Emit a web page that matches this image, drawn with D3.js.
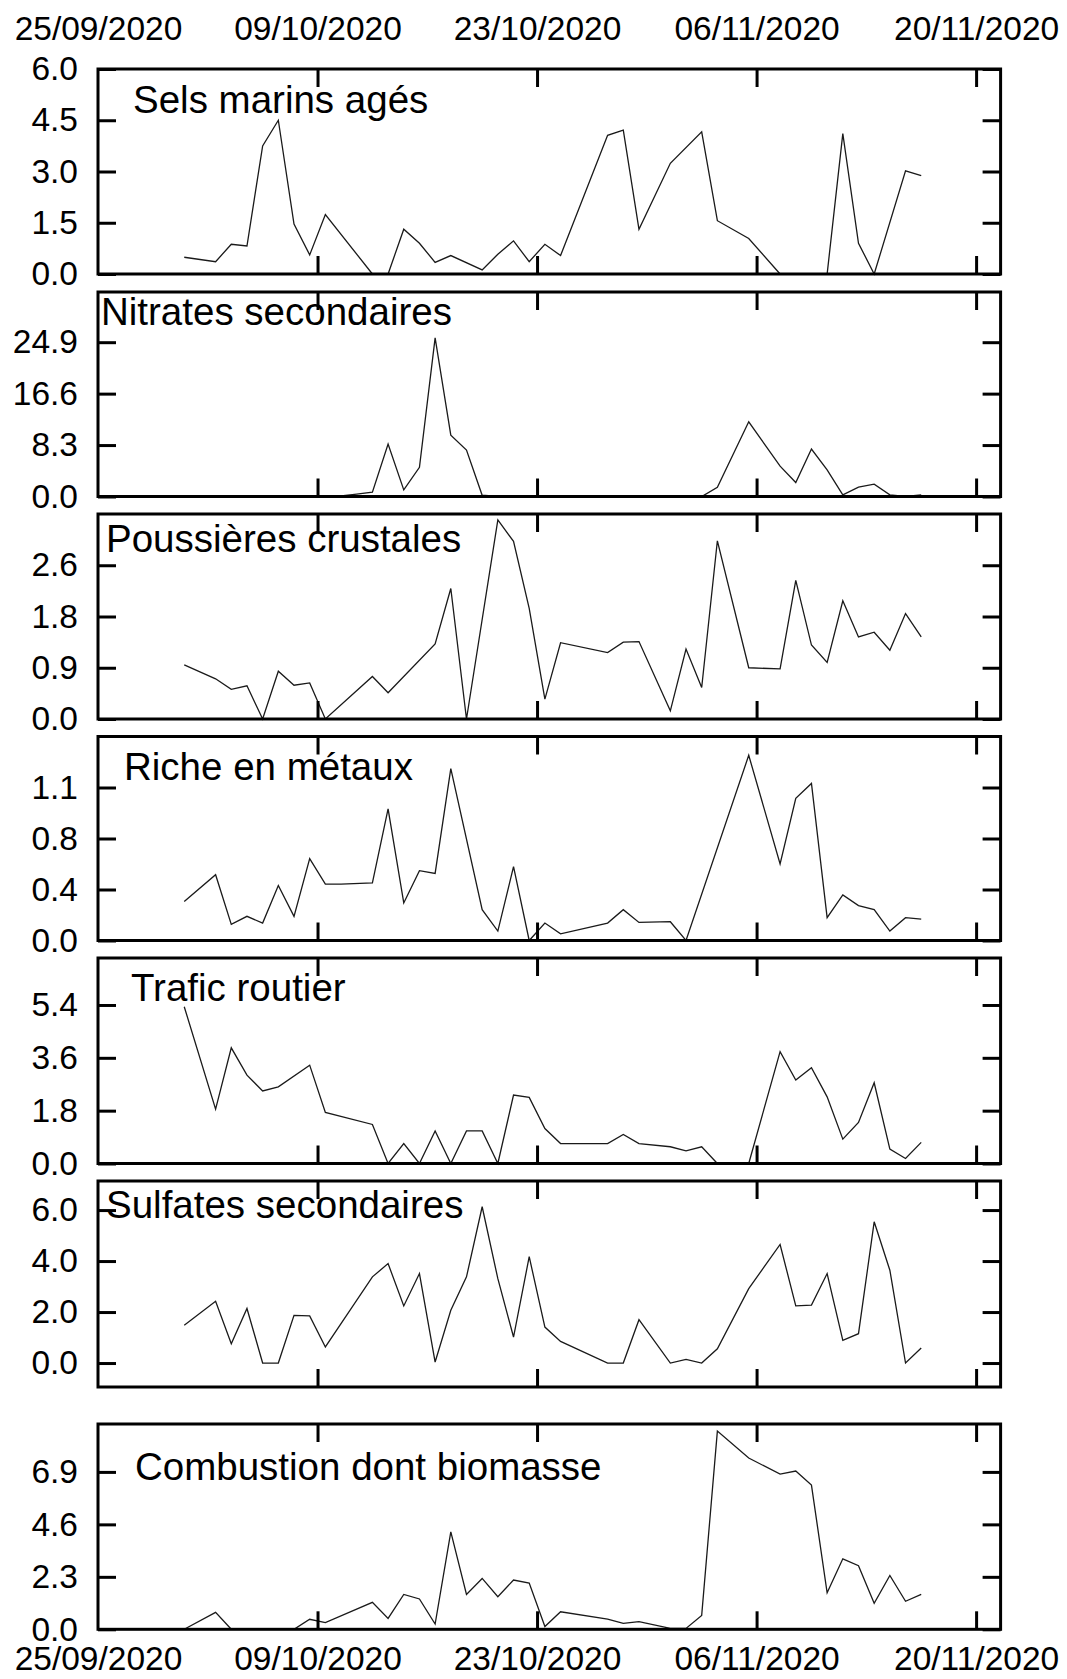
<!DOCTYPE html>
<html>
<head>
<meta charset="utf-8">
<script src="https://cdn.jsdelivr.net/npm/d3@7"></script>
<style>
  body { margin: 0; background: #fff; }
  text { font-family: "Liberation Sans", Arial, sans-serif; fill: #000; }
</style>
</head>
<body>
<div id="chart-area"></div>
<script>
// sampling days (one value per day, 30/09 -> 16/11)
let days = [
  "2020-09-30", "2020-10-01", "2020-10-02", "2020-10-03", "2020-10-04", "2020-10-05",
  "2020-10-06", "2020-10-07", "2020-10-08", "2020-10-09", "2020-10-10", "2020-10-11",
  "2020-10-12", "2020-10-13", "2020-10-14", "2020-10-15", "2020-10-16", "2020-10-17",
  "2020-10-18", "2020-10-19", "2020-10-20", "2020-10-21", "2020-10-22", "2020-10-23",
  "2020-10-24", "2020-10-25", "2020-10-26", "2020-10-27", "2020-10-28", "2020-10-29",
  "2020-10-30", "2020-10-31", "2020-11-01", "2020-11-02", "2020-11-03", "2020-11-04",
  "2020-11-05", "2020-11-06", "2020-11-07", "2020-11-08", "2020-11-09", "2020-11-10",
  "2020-11-11", "2020-11-12", "2020-11-13", "2020-11-14", "2020-11-15", "2020-11-16"
]

// x tick labels
let xTickLabels = ["25/09/2020", "09/10/2020", "23/10/2020", "06/11/2020", "20/11/2020"]

// factor names
let titles = [
  "Sels marins agés", "Nitrates secondaires", "Poussières crustales", "Riche en métaux",
  "Trafic routier", "Sulfates secondaires", "Combustion dont biomasse"
]

// series (null = no sample that day)
let sels = [0.49, null, 0.36, 0.87, 0.82, 3.75, 4.5, 1.46, 0.56, 1.74, null, null,
  0, 0, 1.31, 0.9, 0.34, 0.54, null, 0.12, 0.58, 0.97, 0.36, 0.87,
  0.54, null, null, 4.06, 4.21, 1.31, null, 3.24, null, 4.16, 1.56, null,
  1.04, null, 0, 0, 0, 0, 4.11, 0.9, 0, null, 3.02, 2.88]
let nitrates = [0, 0, 0, 0, 0, 0, 0, 0, 0, 0, 0.1, 0.4,
  0.7, 8.46, 1.07, 4.7, 25.6, 9.9, 7.5, 0.2, 0, 0, 0, 0,
  0, 0, 0, 0, 0, 0, 0, 0, 0, 0, 1.5, null,
  12.05, null, 4.9, 2.25, 7.66, 4.3, 0.27, 1.5, 2.0, 0.27, 0, 0.25]
let poussieres = [0.93, null, 0.69, 0.51, 0.57, 0, 0.82, 0.58, 0.62, 0, null, null,
  0.73, 0.45, null, null, 1.29, 2.24, 0, null, 3.42, 3.05, 1.9, 0.34,
  1.31, null, null, 1.14, 1.32, 1.33, null, 0.14, 1.2, 0.54, 3.06, null,
  0.88, null, 0.86, 2.38, 1.27, 0.97, 2.03, 1.41, 1.49, 1.18, 1.81, 1.41]
let metaux = [0.29, null, 0.49, 0.12, 0.18, 0.13, 0.41, 0.18, 0.61, 0.42, 0.42, null,
  0.43, 0.98, 0.28, 0.52, 0.5, 1.28, null, 0.23, 0.07, 0.55, 0, 0.13,
  0.05, null, null, 0.13, 0.23, 0.135, null, 0.14, 0, null, null, null,
  1.38, null, 0.57, 1.06, 1.17, 0.17, 0.34, 0.26, 0.23, 0.07, 0.17, 0.16]
let trafic = [5.34, null, 1.85, 3.94, 3.01, 2.47, 2.61, null, 3.35, 1.74, null, null,
  1.33, 0, 0.68, 0, 1.11, 0, 1.11, 1.11, 0, 2.33, 2.25, 1.19,
  0.68, null, 0.68, 0.68, 0.99, 0.68, null, 0.57, 0.43, 0.57, 0, 0,
  0, null, 3.81, 2.84, 3.26, 2.27, 0.83, 1.4, 2.75, 0.49, 0.17, 0.72]
let sulfates = [1.48, null, 2.42, 0.76, 2.14, 0, 0, 1.87, 1.85, 0.63, null, null,
  3.38, 3.9, 2.24, 3.51, 0.04, 2.07, 3.38, 6.13, 3.31, 1.02, 4.17, 1.41,
  0.85, null, null, 0, 0, 1.7, null, 0, 0.14, 0, 0.56, null,
  2.92, null, 4.65, 2.24, 2.27, 3.51, 0.89, 1.15, 5.54, 3.64, 0, 0.59]
let combustion = [0, null, 0.74, 0, 0, 0, 0, 0, 0.44, 0.29, null, null,
  1.18, 0.48, 1.53, 1.33, 0.23, 4.27, 1.53, 2.23, 1.43, 2.16, 2.03, 0.12,
  0.77, null, null, 0.45, 0.26, 0.34, null, 0.04, 0.04, 0.61, 8.69, null,
  7.51, null, 6.8, 6.94, 6.32, 1.6, 3.09, 2.79, 1.14, 2.36, 1.23, 1.53]

let series = [sels, nitrates, poussieres, metaux, trafic, sulfates, combustion]

// y axis domains, tick values and tick labels
let yDomains = [[0, 6], [0, 33], [0, 3.52], [0, 1.52], [0, 7.0], [-0.94, 7.14], [0, 9.0]]
let yTicks = [
  [0, 1.5, 3, 4.5, 6], [0, 8.3, 16.6, 24.9], [0, 0.88, 1.76, 2.64], [0, 0.38, 0.76, 1.14],
  [0, 1.8, 3.6, 5.4], [0, 2, 4, 6], [0, 2.3, 4.6, 6.9]
]
let yTickLabels = [
  ["0.0", "1.5", "3.0", "4.5", "6.0"], ["0.0", "8.3", "16.6", "24.9"], ["0.0", "0.9", "1.8", "2.6"],
  ["0.0", "0.4", "0.8", "1.1"], ["0.0", "1.8", "3.6", "5.4"], ["0.0", "2.0", "4.0", "6.0"],
  ["0.0", "2.3", "4.6", "6.9"]
]

// layout
let width = 1067, height = 1679
let plotLeft = 98, plotRight = 1000.6
let panels = [
  { top: 69, bottom: 274 }, { top: 292, bottom: 496.5 }, { top: 514, bottom: 719 },
  { top: 736.5, bottom: 940.5 }, { top: 958, bottom: 1163.5 }, { top: 1181, bottom: 1387 },
  { top: 1424, bottom: 1629.3 }
]
let titlePos = [
  [133, 113], [101, 325], [106, 552], [124, 780], [131, 1001], [106, 1218], [135, 1480]
]
let tickLen = 18, fontSize = 33.5, titleSize = 38.5

let svg = d3.select("#chart-area").append('svg')
  .attr('width', width)
  .attr('height', height)

let parseDay = d3.timeParse("%Y-%m-%d")
let parseTick = d3.timeParse("%d/%m/%Y")
let dates = days.map((s) => d3.timeHour.offset(parseDay(s), 12))   // samples plotted at midday
let xTickDates = xTickLabels.map(parseTick)

let x = d3.scaleTime()
  .domain([parseTick("25/09/2020"), d3.timeMinute.offset(parseTick("21/11/2020"), 13 * 60 + 30)])
  .range([plotLeft, plotRight])

function styleAxis(sel) {
  sel.select('.domain').remove()
  sel.selectAll('.tick line').attr('stroke', '#000').attr('stroke-width', 3)
  sel.selectAll('.tick text').attr('fill', '#000')
  sel.attr('font-size', fontSize).attr('font-family', '"Liberation Sans", Arial, sans-serif')
}

panels.forEach((p, i) => {
  let h = p.bottom - p.top
  let y = d3.scaleLinear().domain(yDomains[i]).range([p.bottom, p.top])

  // data line
  let pts = dates.map((d, j) => ({ date: d, value: series[i][j] })).filter((d) => d.value != null)
  let line = d3.line()
    .x((d) => x(d.date))
    .y((d) => y(d.value))
  svg.append('path')
    .attr('fill', 'none')
    .attr('stroke', '#1a1a1a')
    .attr('stroke-width', 1.3)
    .attr('stroke-linejoin', 'miter')
    .attr('d', line(pts))

  // left axis with labels, right axis ticks only
  svg.append('g')
    .attr('transform', 'translate(' + plotLeft + ',0)')
    .call(d3.axisLeft(y).tickValues(yTicks[i]).tickSize(-tickLen).tickPadding(20)
      .tickFormat((d, j) => yTickLabels[i][j]))
    .call(styleAxis)
  svg.append('g')
    .attr('transform', 'translate(' + plotRight + ',0)')
    .call(d3.axisRight(y).tickValues(yTicks[i]).tickSize(-tickLen).tickFormat(''))
    .call(styleAxis)

  // top / bottom date ticks
  svg.append('g')
    .attr('transform', 'translate(0,' + p.top + ')')
    .call(d3.axisTop(x).tickValues(xTickDates.slice(1)).tickSize(-tickLen).tickFormat(''))
    .call(styleAxis)
  svg.append('g')
    .attr('transform', 'translate(0,' + p.bottom + ')')
    .call(d3.axisBottom(x).tickValues(xTickDates.slice(1)).tickSize(-tickLen).tickFormat(''))
    .call(styleAxis)

  // frame
  svg.append('rect')
    .attr('x', plotLeft)
    .attr('y', p.top)
    .attr('width', plotRight - plotLeft)
    .attr('height', h)
    .attr('fill', 'none')
    .attr('stroke', '#000')
    .attr('stroke-width', 3)

  // factor name
  svg.append('text')
    .attr('x', titlePos[i][0])
    .attr('y', titlePos[i][1])
    .attr('font-size', titleSize)
    .text(titles[i])
})

// date labels above the first panel and under the last one
svg.append('g')
  .attr('transform', 'translate(0,' + panels[0].top + ')')
  .call(d3.axisTop(x).tickValues(xTickDates).tickSize(0).tickPadding(29)
    .tickFormat((d, j) => xTickLabels[j]))
  .call(styleAxis)
svg.append('g')
  .attr('transform', 'translate(0,' + panels[6].bottom + ')')
  .call(d3.axisBottom(x).tickValues(xTickDates).tickSize(0).tickPadding(17)
    .tickFormat((d, j) => xTickLabels[j]))
  .call(styleAxis)
</script>
</body>
</html>
